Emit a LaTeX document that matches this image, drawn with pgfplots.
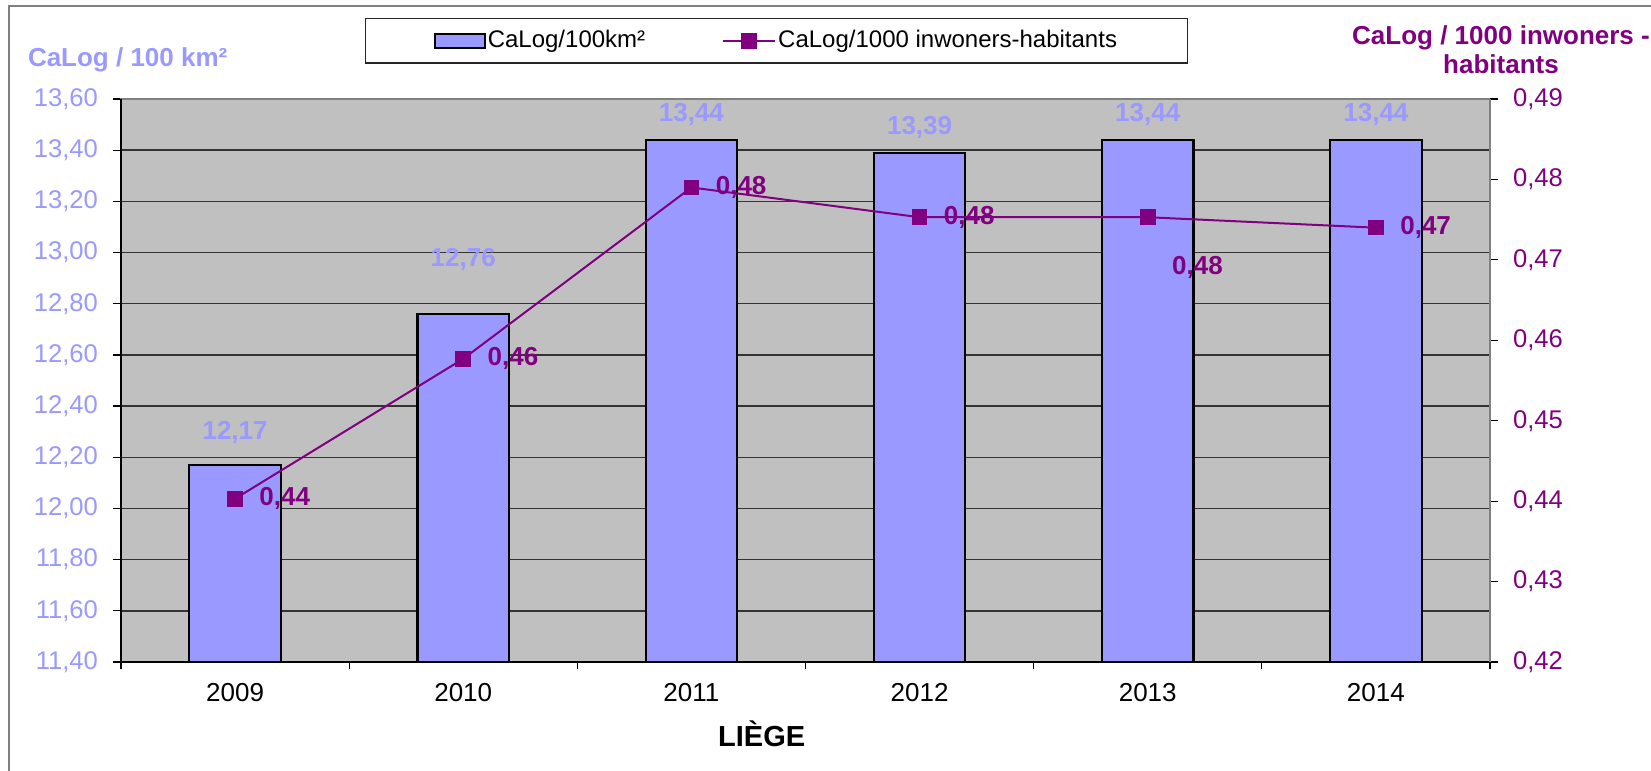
\documentclass[border=0pt]{standalone}
\usepackage{pgfplots}
\pgfplotsset{compat=1.18}
\usepackage{fontspec}
\setmainfont{Liberation Sans}
\definecolor{barblue}{HTML}{9999FF}
\definecolor{purp}{HTML}{800080}
\definecolor{bggray}{HTML}{C0C0C0}
\definecolor{framegray}{HTML}{808080}
\pgfplotstableread{
x y
0 12.17
1 12.76
2 13.44
3 13.39
4 13.44
5 13.44
}\bardata
\pgfplotstableread{
x y label
0 12.299 12,17
1 12.975 12,76
2 13.541 13,44
3 13.487 13,39
4 13.541 13,44
5 13.541 13,44
}\barlabels
\pgfplotstableread{
x y
0 0.4403
1 0.4577
2 0.4790
3 0.4753
4 0.4753
5 0.4740
}\linedata
\pgfplotstableread{
x y label
0 0.4403 0,44
1 0.4577 0,46
2 0.4790 0,48
3 0.4753 0,48
4 0.4691 0,48
5 0.4740 0,47
}\linelabels
\begin{document}
\begin{tikzpicture}
\path[use as bounding box] (0pt,0pt) rectangle (825.5pt,-385.5pt);
\draw[framegray, line width=0.8pt] (4.5pt,-385.5pt) -- (4.5pt,-3pt) -- (825.5pt,-3pt);
\begin{axis}[
  at={(60.5pt,-49.5pt)}, anchor=north west,
  width=684.5pt, height=281.5pt, scale only axis,
  xmin=-0.5, xmax=5.5, ymin=11.4, ymax=13.6,
  axis background/.style={fill=bggray},
  axis line style={framegray, line width=0.8pt},
  xtick={0,1,2,3,4,5},
  xticklabels={2009,2010,2011,2012,2013,2014},
  minor xtick={-0.5,0.5,1.5,2.5,3.5,4.5,5.5},
  major x tick style={draw=none},
  minor tick length=3.5pt,
  major tick length=4pt,
  tick align=outside,
  xtick pos=bottom, ytick pos=left,
  tick style={black, line width=0.6pt},
  ytick={11.4,11.6,11.8,12.0,12.2,12.4,12.6,12.8,13.0,13.2,13.4,13.6},
  ymajorgrids,
  major grid style={black!80, line width=0.7pt},
  /pgf/number format/assume math mode=true,
  yticklabel={\pgfmathprintnumber[fixed,fixed zerofill,precision=2,use comma]{\tick}},
  yticklabel style={font=\fontsize{12.8}{14}\selectfont, color=barblue, xshift=-4pt},
  xticklabel style={font=\fontsize{13}{15}\selectfont, color=black, yshift=-3pt},
  after end axis/.code={
    \draw[black, line width=0.9pt] (rel axis cs:0,1) -- (rel axis cs:0,0) -- (rel axis cs:1,0);
    \node[anchor=base, inner sep=0pt, font=\bfseries\fontsize{14.5}{16}\selectfont] at (axis description cs:0.468,-0.1492) {LIÈGE};
  },
]
\addplot[ybar, bar width=45.75pt, bar shift=0pt, fill=barblue, draw=black, line width=1.1pt] table[x=x,y=y] {\bardata};
\addplot[draw=none, mark=none, nodes near coords, point meta=explicit symbolic,
  nodes near coords style={anchor=center, inner sep=0pt, color=barblue, font=\bfseries\fontsize{13}{15}\selectfont}]
  table[x=x,y=y,meta=label] {\barlabels};
\end{axis}
\begin{axis}[
  at={(60.5pt,-49.5pt)}, anchor=north west,
  width=684.5pt, height=281.5pt, scale only axis,
  xmin=-0.5, xmax=5.5, ymin=0.42, ymax=0.49,
  axis x line=none, axis y line*=right,
  axis line style={framegray, line width=0.8pt},
  tick align=outside, major tick length=4pt,
  tick style={black, line width=0.6pt},
  ytick={0.42,0.43,0.44,0.45,0.46,0.47,0.48,0.49},
  /pgf/number format/assume math mode=true,
  yticklabel={\pgfmathprintnumber[fixed,fixed zerofill,precision=2,use comma]{\tick}},
  yticklabel style={font=\fontsize{12.8}{14}\selectfont, color=purp, xshift=4pt},
  legend columns=2,
  legend style={at={(0.17823,1.1439)}, anchor=north west, draw=black!85, line width=0.6pt, fill=white,
    font=\fontsize{12}{14}\selectfont, inner xsep=34pt, inner ysep=4pt,
    /tikz/every even column/.append style={column sep=37.5pt},
    nodes={inner xsep=1pt}},
]
\addlegendimage{legend image code/.code={\draw[fill=barblue,draw=black,line width=1.1pt] (0pt,-3.5pt) rectangle (25pt,3.5pt);}}
\addlegendentry{CaLog/100km²}
\addplot[purp, line width=1pt, mark=square*, mark size=3.4pt, mark options={solid, fill=purp},
  legend image code/.code={\draw[mark repeat=2,mark phase=2] plot coordinates {(0pt,0pt) (13pt,0pt) (26pt,0pt)};}]
  table[x=x,y=y] {\linedata};
\addlegendentry{CaLog/1000 inwoners-habitants}
\addplot[draw=none, mark=none, forget plot, nodes near coords, point meta=explicit symbolic,
  nodes near coords style={anchor=west, inner sep=0pt, xshift=12pt, color=purp, font=\bfseries\fontsize{13}{15}\selectfont}]
  table[x=x,y=y,meta=label] {\linelabels};
\end{axis}
\node[anchor=base west, inner sep=0pt, color=barblue, font=\bfseries\fontsize{13}{15}\selectfont] at (13.8pt,-33.5pt) {CaLog / 100 km²};
\node[anchor=base, inner sep=0pt, color=purp, font=\bfseries\fontsize{13}{14}\selectfont] at (750.5pt,-22.5pt) {CaLog / 1000 inwoners -};
\node[anchor=base, inner sep=0pt, color=purp, font=\bfseries\fontsize{13}{14}\selectfont] at (750.5pt,-36.5pt) {habitants};
\end{tikzpicture}
\end{document}
